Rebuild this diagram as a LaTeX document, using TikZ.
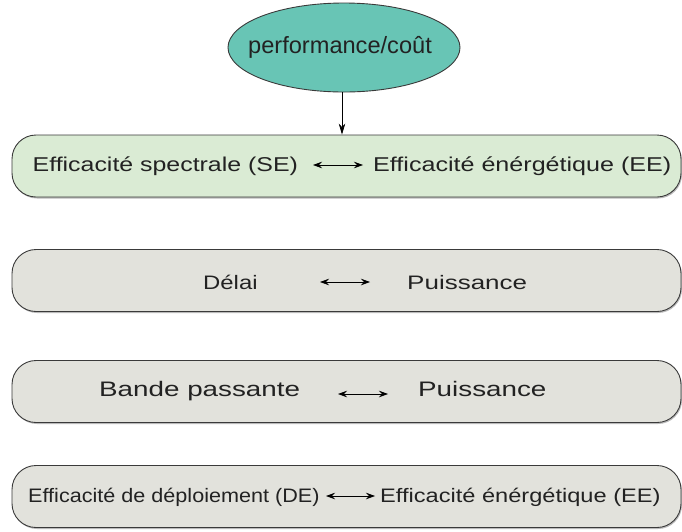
\documentclass[tikz,border=0pt]{standalone}
\usepackage{fontspec}
\setmainfont{Liberation Sans}
\usetikzlibrary{arrows.meta,shapes.geometric,shadows}
\definecolor{tealfill}{HTML}{68C5B5}
\definecolor{greenfill}{HTML}{DAEBD4}
\definecolor{grayfill}{HTML}{E2E2DC}
\definecolor{linecol}{HTML}{3A3A3A}
\definecolor{textcol}{HTML}{222222}
% scaled text: #1 = horizontal em size (pt), #2 = vertical em size (pt)
\newcommand{\sctxt}[3]{\scalebox{\fpeval{#1/10}}[\fpeval{#2/10}]{\fontsize{10}{12}\selectfont #3}}
\tikzset{
  boxshape/.style={draw=linecol, line width=0.9pt, rounded corners=24pt,
    minimum width=669pt, minimum height=62pt, inner sep=0pt,
    drop shadow={shadow xshift=1pt, shadow yshift=-1.5pt, fill=black!45, opacity=0.6}},
  lbl/.style={anchor=base west, inner sep=0pt, text=textcol},
  dblarrow/.style={{Stealth[length=9pt,width=6.5pt,inset=3pt]}-{Stealth[length=9pt,width=6.5pt,inset=3pt]}, line width=0.7pt, draw=black},
}
\begin{document}
\begin{tikzpicture}[x=1pt,y=-1pt]
\useasboundingbox (0,0) rectangle (682,531);
% top ellipse
\node[ellipse, draw=linecol, line width=0.9pt, fill=tealfill, minimum width=232pt, minimum height=89pt, inner sep=0pt] (top) at (344,47.5) {};
\node[lbl] (toptext) at (248,53) {\sctxt{23.6}{23.5}{performance/coût}};
% boxes
\node[boxshape, fill=greenfill] (b1) at (346.5,166) {};
\node[boxshape, fill=grayfill] (b2) at (346.5,280.5) {};
\node[boxshape, fill=grayfill] (b3) at (346.5,391.5) {};
\node[boxshape, fill=grayfill] (b4) at (346.5,496.5) {};
% arrow top
\draw[line width=0.7pt, -{Stealth[length=11pt,width=6.5pt,inset=3.5pt]}] (top.south -| 342,0) -- (b1.north -| 342,0);
% box 1
\node[lbl] (l1) at (32.5,171) {\sctxt{24.9}{20}{Efficacité spectrale (SE)}};
\node[lbl] (r1) at (373,171) {\sctxt{25.1}{20}{Efficacité énérgétique (EE)}};
\coordinate (a1s) at (313,165);
\coordinate (a1e) at (363,165);
\draw[dblarrow] (a1s) -- (a1e);
% box 2
\node[lbl] (l2) at (203,289) {\sctxt{23.9}{19.5}{Délai}};
\node[lbl] (r2) at (407,289) {\sctxt{26}{19.5}{Puissance}};
\coordinate (a2s) at (320,282);
\coordinate (a2e) at (370,282);
\draw[dblarrow] (a2s) -- (a2e);
% box 3
\node[lbl] (l3) at (99,396.5) {\sctxt{27.8}{21}{Bande passante}};
\node[lbl] (r3) at (418,396.5) {\sctxt{27.8}{21}{Puissance}};
\coordinate (a3s) at (338,394);
\coordinate (a3e) at (388,394);
\draw[dblarrow] (a3s) -- (a3e);
% box 4
\node[lbl] (l4) at (28,502) {\sctxt{21.6}{19.5}{Efficacité de déploiement (DE)}};
\node[lbl] (r4) at (380,502) {\sctxt{23.6}{19.5}{Efficacité énérgétique (EE)}};
\coordinate (a4s) at (326,496);
\coordinate (a4e) at (375,496);
\draw[dblarrow] (a4s) -- (a4e);
\end{tikzpicture}
\end{document}
